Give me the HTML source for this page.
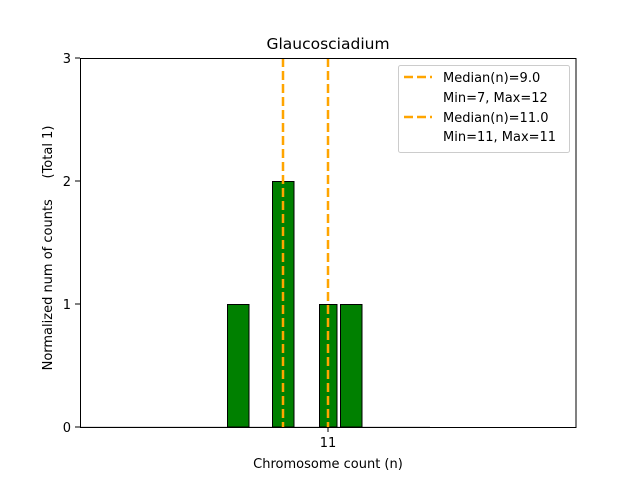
<!DOCTYPE html>
<html><head><style>body{margin:0;background:#fff}</style></head><body>
<svg width="640" height="480" xmlns="http://www.w3.org/2000/svg" font-family="DejaVu Sans, Liberation Sans, sans-serif">
<rect width="640" height="480" fill="#fff"/>
<line x1="80" y1="427" x2="430" y2="427" stroke="#bbb" stroke-width="1"/>
<g fill="#008000" stroke="#000" stroke-width="1">
<rect x="227.5" y="304.5" width="21.5" height="122.5"/>
<rect x="272.5" y="181.5" width="21.5" height="245.5"/>
<rect x="319.5" y="304.5" width="17.5" height="122.5"/>
<rect x="340.5" y="304.5" width="21.5" height="122.5"/>
</g>
<g stroke="#FFA500" stroke-width="2.5" stroke-dasharray="9,4">
<line x1="283" y1="58" x2="283" y2="427"/>
<line x1="328" y1="58" x2="328" y2="427"/>
</g>
<rect x="80.5" y="58.5" width="495.5" height="369" fill="none" stroke="#000" stroke-width="1"/>
<g stroke="#000"><line x1="75" y1="427" x2="80" y2="427"/><line x1="75" y1="304" x2="80" y2="304"/><line x1="75" y1="181" x2="80" y2="181"/><line x1="75" y1="58" x2="80" y2="58"/><line x1="328" y1="427" x2="328" y2="432"/></g>
<g font-size="13" text-anchor="end"><text x="71" y="432">0</text><text x="71" y="309">1</text><text x="71" y="186">2</text><text x="71" y="63">3</text></g>
<text x="328" y="447" font-size="13" text-anchor="middle">11</text>
<text x="328" y="468" font-size="13" text-anchor="middle">Chromosome count (n)</text>
<text x="328" y="49" font-size="15.5" text-anchor="middle">Glaucosciadium</text>
<text transform="translate(52,248) rotate(-90)" font-size="13" text-anchor="middle" xml:space="preserve" style="white-space:pre">Normalized num of counts     (Total 1)</text>
<rect x="398.5" y="65.5" width="171" height="87" rx="2" fill="#fff" stroke="#ccc"/>
<g stroke="#FFA500" stroke-width="2.5" stroke-dasharray="9,4"><line x1="404" y1="77" x2="432" y2="77"/><line x1="404" y1="117" x2="432" y2="117"/></g>
<g font-size="13"><text x="443" y="82">Median(n)=9.0</text><text x="443" y="102">Min=7, Max=12</text><text x="443" y="122">Median(n)=11.0</text><text x="443" y="141">Min=11, Max=11</text></g>
</svg>
</body></html>
